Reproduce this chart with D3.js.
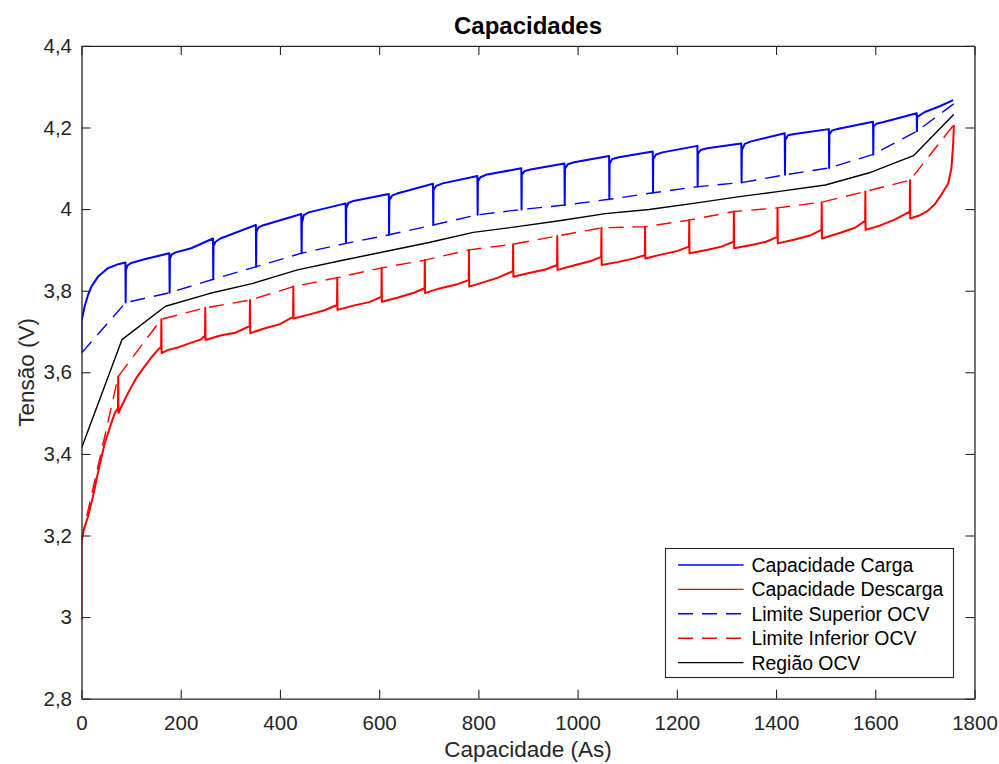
<!DOCTYPE html>
<html>
<head>
<meta charset="utf-8">
<script src="https://cdn.jsdelivr.net/npm/d3@7"></script>
<style>
  html, body { margin: 0; padding: 0; background: #fff; }
  svg { display: block; font-family: "Liberation Sans", Arial, Helvetica, sans-serif; }
</style>
</head>
<body>
<svg id="chart" width="999" height="764"></svg>
<script>
// Axis ticks
const xTicks = [0, 200, 400, 600, 800, 1000, 1200, 1400, 1600, 1800];
const yTicks = [2.8, 3.0, 3.2, 3.4, 3.6, 3.8, 4.0, 4.2, 4.4];

// Charge curve [capacity (As), voltage (V)], with the rest drops at each step
const cargaPts = [
  [0, 3.65], [0, 3.725], [6, 3.76], [13, 3.789], [20, 3.81], [33, 3.834], [53, 3.855], [74, 3.865], [88.5, 3.869],
  [89, 3.771], [89.5, 3.851], [93, 3.862], [100, 3.868], [127, 3.877], [177, 3.892],
  [177.7, 3.795], [178.2, 3.879], [182, 3.889], [190, 3.894], [221, 3.904], [265, 3.928],
  [265.6, 3.828], [266.1, 3.909], [270, 3.92], [280, 3.928], [351.5, 3.961],
  [352, 3.859], [352.5, 3.945], [357, 3.955], [365, 3.96], [443, 3.988],
  [443.7, 3.892], [444.2, 3.965], [448, 3.985], [458, 3.992], [532.5, 4.014],
  [533, 3.916], [533.5, 4.002], [538, 4.015], [548, 4.02], [619.5, 4.037],
  [620, 3.937], [620.5, 4.022], [626, 4.033], [638, 4.039], [708.5, 4.062],
  [709, 3.961], [709.5, 4.047], [715, 4.057], [728, 4.063], [798, 4.081],
  [798.5, 3.986], [799, 4.068], [804, 4.078], [815, 4.084], [886.5, 4.100],
  [887, 3.999], [887.5, 4.084], [893, 4.093], [905, 4.097], [973.5, 4.112],
  [974, 4.010], [974.5, 4.098], [980, 4.110], [993, 4.115], [1063.5, 4.130],
  [1064, 4.024], [1064.5, 4.112], [1070, 4.123], [1083, 4.127], [1151.5, 4.141],
  [1152, 4.040], [1152.5, 4.122], [1158, 4.134], [1171, 4.139], [1241.5, 4.155],
  [1242, 4.055], [1242.5, 4.135], [1248, 4.145], [1261, 4.149], [1330, 4.161],
  [1330.5, 4.065], [1331, 4.145], [1337, 4.160], [1350, 4.166], [1417.5, 4.186],
  [1418, 4.084], [1418.5, 4.169], [1424, 4.181], [1437, 4.184], [1506.5, 4.196],
  [1507, 4.101], [1507.5, 4.183], [1513, 4.193], [1526, 4.197], [1595.5, 4.214],
  [1596, 4.134], [1596.5, 4.202], [1602, 4.209], [1615, 4.213], [1683.5, 4.235],
  [1684, 4.191], [1684.5, 4.226], [1700, 4.238], [1730, 4.252], [1757, 4.267]
];

// Discharge curve [capacity (As), voltage (V)], with the rest spikes at each step
const descargaPts = [
  [0, 2.993], [0, 3.185], [5, 3.215], [13, 3.246], [23, 3.295], [33, 3.353], [47, 3.427], [60, 3.475], [67, 3.50], [73.5, 3.512],
  [74, 3.59], [74.5, 3.50], [80, 3.515], [93.7, 3.549], [110, 3.585], [127, 3.614], [140, 3.635], [154, 3.655], [160.5, 3.662],
  [161, 3.73], [161.5, 3.647], [175, 3.655], [194.5, 3.661], [220, 3.672], [240, 3.680], [249, 3.69],
  [249.5, 3.758], [250, 3.679], [280, 3.690], [310, 3.697], [339, 3.713],
  [339.6, 3.777], [340.1, 3.696], [370, 3.708], [400, 3.718], [426.5, 3.736],
  [427, 3.81], [427.5, 3.732], [460, 3.742], [490, 3.752], [515, 3.765],
  [515.5, 3.832], [516, 3.753], [550, 3.764], [580, 3.772], [604.5, 3.785],
  [605, 3.856], [605.5, 3.773], [640, 3.784], [670, 3.795], [691.5, 3.806],
  [692, 3.875], [692.5, 3.794], [720, 3.805], [755, 3.815], [780.5, 3.826],
  [781, 3.90], [781.5, 3.810], [803, 3.818], [840, 3.832], [869.5, 3.848],
  [870, 3.914], [870.5, 3.834], [900, 3.843], [935, 3.852], [958.5, 3.863],
  [959, 3.934], [959.5, 3.851], [990, 3.861], [1025, 3.872], [1047.5, 3.883],
  [1048, 3.954], [1048.5, 3.863], [1080, 3.870], [1110, 3.878], [1135.5, 3.887],
  [1136, 3.957], [1136.5, 3.879], [1170, 3.889], [1200, 3.897], [1224.5, 3.908],
  [1225, 3.973], [1225.5, 3.892], [1260, 3.900], [1290, 3.908], [1314.5, 3.920],
  [1315, 3.994], [1315.5, 3.904], [1350, 3.912], [1380, 3.920], [1402.5, 3.932],
  [1403, 4.003], [1403.5, 3.916], [1440, 3.926], [1470, 3.936], [1491.5, 3.949],
  [1492, 4.017], [1492.5, 3.928], [1530, 3.942], [1560, 3.955], [1579.5, 3.971],
  [1580, 4.043], [1580.5, 3.949], [1610, 3.960], [1640, 3.975], [1669.5, 3.994],
  [1670, 4.071], [1670.5, 3.977], [1690, 3.985], [1705, 3.995], [1720, 4.012],
  [1733, 4.035], [1747, 4.063], [1753.5, 4.10], [1757, 4.16], [1758.5, 4.206]
];

// OCV bounds and OCV region nodes [capacity (As), voltage (V)]
const limiteSuperior = [
  [0, 3.647], [89, 3.771], [177.7, 3.795], [265.6, 3.828], [352, 3.859], [443.7, 3.892],
  [533, 3.916], [620, 3.937], [709, 3.961], [798.5, 3.986], [887, 3.999], [974, 4.010],
  [1064, 4.024], [1152, 4.040], [1242, 4.055], [1330.5, 4.065], [1418, 4.084], [1507, 4.101],
  [1596, 4.134], [1684, 4.191], [1758, 4.258]
];
const limiteInferior = [
  [0, 3.19], [74, 3.59], [161, 3.73], [249.5, 3.758], [339.6, 3.777], [427, 3.81],
  [515.5, 3.832], [605, 3.856], [692, 3.875], [781, 3.90], [870, 3.914], [959, 3.934],
  [1048, 3.954], [1136, 3.957], [1225, 3.973], [1315, 3.994], [1403, 4.003], [1492, 4.017],
  [1580, 4.043], [1670, 4.071], [1758, 4.206]
];
const regiaoOCV = [
  [0, 3.414], [81.5, 3.680], [169.4, 3.762], [257.5, 3.793], [345.8, 3.818], [435.4, 3.851],
  [524, 3.874], [612.5, 3.896], [700.5, 3.918], [789.7, 3.943], [878.5, 3.957], [966.5, 3.972],
  [1056, 3.989], [1144, 3.999], [1233.5, 4.014], [1322.8, 4.030], [1410.5, 4.044], [1499.5, 4.059],
  [1588, 4.089], [1677, 4.131], [1758, 4.232]
];

const seriesNames = ["Capacidade Carga", "Capacidade Descarga", "Limite Superior OCV", "Limite Inferior OCV", "Região OCV"];

const svg = d3.select("#chart");
const axisColor = "#262626";
const plotLeft = 81.5, plotRight = 974.5, plotTop = 45.9, plotBottom = 698.7;

const x = d3.scaleLinear().domain([0, 1800]).range([plotLeft, plotRight]);
const y = d3.scaleLinear().domain([2.8, 4.4]).range([plotBottom, plotTop]);

const yFmt = d => String(+d.toFixed(1)).replace(".", ",");

// Series definitions
const series = [
  { data: cargaPts, color: "#0000ff", width: 2, dash: null },
  { data: descargaPts, color: "#ff0000", width: 2, dash: null },
  { data: limiteSuperior, color: "#0000ff", width: 1.4, dash: "15,9" },
  { data: limiteInferior, color: "#ff0000", width: 1.4, dash: "15,9" },
  { data: regiaoOCV, color: "#000000", width: 1.4, dash: null }
];

const line = d3.line().x(d => x(d[0])).y(d => y(d[1]));

svg.append("clipPath").attr("id", "plotClip").append("rect")
  .attr("x", plotLeft).attr("y", plotTop)
  .attr("width", plotRight - plotLeft).attr("height", plotBottom - plotTop);

const plot = svg.append("g").attr("clip-path", "url(#plotClip)");
// dashed bounds and OCV region first, measured curves on top
[4, 2, 3, 0, 1].forEach(i => {
  const s = series[i];
  plot.append("path")
    .datum(s.data)
    .attr("d", line)
    .attr("fill", "none")
    .attr("stroke", s.color)
    .attr("stroke-width", s.width)
    .attr("stroke-linejoin", "round")
    .attr("stroke-dasharray", s.dash);
});

// Axes with inward ticks on all four sides
const tickLen = 9;
function styleAxis(g) {
  g.select(".domain").attr("stroke", axisColor).attr("stroke-width", 1.3);
  g.selectAll(".tick line").attr("stroke", axisColor).attr("stroke-width", 1.1);
  g.selectAll(".tick text").attr("fill", axisColor).attr("font-size", "20.5px")
    .attr("font-family", "'Liberation Sans', Arial, Helvetica, sans-serif");
}

const gx = svg.append("g").attr("transform", `translate(0,${plotBottom})`)
  .call(d3.axisBottom(x).tickValues(xTicks).tickFormat(d3.format("d"))
    .tickSizeInner(-tickLen).tickSizeOuter(0).tickPadding(16.5));
styleAxis(gx);

const gxTop = svg.append("g").attr("transform", `translate(0,${plotTop})`)
  .call(d3.axisTop(x).tickValues(xTicks).tickFormat("")
    .tickSizeInner(-tickLen).tickSizeOuter(0));
styleAxis(gxTop);

const gy = svg.append("g").attr("transform", `translate(${plotLeft},0)`)
  .call(d3.axisLeft(y).tickValues(yTicks).tickFormat(yFmt)
    .tickSizeInner(-tickLen).tickSizeOuter(0).tickPadding(9.5));
styleAxis(gy);

const gyRight = svg.append("g").attr("transform", `translate(${plotRight},0)`)
  .call(d3.axisRight(y).tickValues(yTicks).tickFormat("")
    .tickSizeInner(-tickLen).tickSizeOuter(0));
styleAxis(gyRight);

// Title and axis labels
svg.append("text")
  .attr("x", (plotLeft + plotRight) / 2).attr("y", 34)
  .attr("text-anchor", "middle").attr("font-size", "24px").attr("font-weight", "bold")
  .attr("fill", "#000").text("Capacidades");

svg.append("text")
  .attr("x", (plotLeft + plotRight) / 2).attr("y", 757)
  .attr("text-anchor", "middle").attr("font-size", "22.5px")
  .attr("fill", axisColor).text("Capacidade (As)");

svg.append("text")
  .attr("transform", `translate(34,${(plotTop + plotBottom) / 2}) rotate(-90)`)
  .attr("text-anchor", "middle").attr("font-size", "22.5px")
  .attr("fill", axisColor).text("Tensão (V)");

// Legend
const lg = { x: 665.5, y: 548.5, w: 288, h: 129, rowTop: 565, rowStep: 24.4 };
const legend = svg.append("g");
legend.append("rect")
  .attr("x", lg.x).attr("y", lg.y).attr("width", lg.w).attr("height", lg.h)
  .attr("fill", "#fff").attr("stroke", axisColor).attr("stroke-width", 1.1);

seriesNames.forEach((name, i) => {
  const s = series[i];
  const cy = lg.rowTop + i * lg.rowStep;
  legend.append("line")
    .attr("x1", 678).attr("x2", 743.5).attr("y1", cy).attr("y2", cy)
    .attr("stroke", s.color).attr("stroke-width", 1.4)
    .attr("stroke-dasharray", s.dash);
  legend.append("text")
    .attr("x", 751.5).attr("y", cy + 7)
    .attr("font-size", "19.4px").attr("fill", "#000")
    .text(name);
});
</script>
</body>
</html>
